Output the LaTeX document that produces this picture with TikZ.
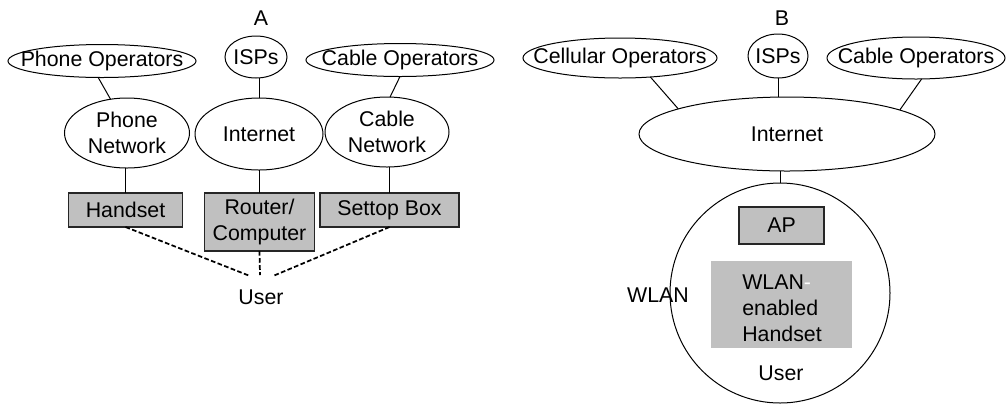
\documentclass[tikz,border=0pt]{standalone}
\usepackage{fontspec}
\setmainfont{Liberation Sans}
\usetikzlibrary{shapes.geometric}
\definecolor{boxgray}{HTML}{C0C0C0}
\tikzset{
  every node/.style={font=\fontsize{16pt}{19.5pt}\selectfont, inner sep=0pt, outer sep=0pt},
  oval/.style={draw, ellipse, line width=0.75pt},
  lbl/.style={align=center},
  devbox/.style={draw=black!85, fill=boxgray, line width=0.9pt, rectangle, align=center},
  link/.style={line width=0.75pt},
  dlink/.style={line width=1.3pt, dash pattern=on 3.5pt off 1.8pt},
}
\begin{document}
\begin{tikzpicture}[x=0.75pt,y=-0.75pt]
\path[use as bounding box] (0,0) rectangle (1006,405);

% ---------- Panel A ----------
\node (tA) at (261,18) {A};
\node[oval, minimum width=141pt, minimum height=24.75pt] (po) at (102,61) {};
\node[lbl] (pot) at (po) {Phone Operators};
\node[oval, minimum width=46.5pt, minimum height=31.5pt] (ispA) at (256,57) {};
\node[lbl] (ispAt) at (ispA) {ISPs};
\node[oval, minimum width=141pt, minimum height=24.75pt] (co) at (400,60) {};
\node[lbl] (cot) at (co) {Cable Operators};

\node[oval, minimum width=93.75pt, minimum height=52.5pt] (pn) at (127,133) {};
\node[lbl] (pnt) at (pn) {Phone\\Network};
\node[oval, minimum width=96pt, minimum height=54pt] (inA) at (259,134) {};
\node[lbl] (inAt) at (inA) {Internet};
\node[oval, minimum width=93pt, minimum height=52.5pt] (cn) at (387,132) {};
\node[lbl] (cnt) at (cn) {Cable\\Network};

\node[devbox, minimum width=85.5pt, minimum height=25.5pt] (hs) at (125.5,210) {Handset};
\node[devbox, minimum width=82.5pt, minimum height=43.5pt] (rc) at (259.5,222) {Router/\\Computer};
\node[devbox, minimum width=104.25pt, minimum height=25.5pt] (stb) at (389.5,210) {Settop Box};

\node (userA) at (261,297) {User};
\coordinate (uL) at (250,276);
\coordinate (uM) at (260,275);
\coordinate (uR) at (273,276);

\draw[link] (po.-103) -- (pn.116);
\draw[link] (inA.north) -- (inA.north |- ispA.south);
\draw[link] (co.south) -- (cn.85);
\draw[link] (hs.north) -- (hs.north |- pn.south);
\draw[link] (rc.north) -- (rc.north |- inA.south);
\draw[link] (stb.north) -- (stb.north |- cn.south);

\draw[dlink] (hs.south) -- (uL);
\draw[dlink] (rc.south) -- (uM);
\draw[dlink] (stb.south) -- (uR);

% ---------- Panel B ----------
\node (tB) at (782,18) {B};
\node[oval, minimum width=145.5pt, minimum height=30pt] (cel) at (620,58) {};
\node[lbl] (celt) at (cel) {Cellular Operators};
\node[oval, minimum width=45pt, minimum height=33pt] (ispB) at (778,56) {};
\node[lbl] (ispBt) at (ispB) {ISPs};
\node[oval, minimum width=133.5pt, minimum height=31.5pt] (coB) at (916,58) {};
\node[lbl] (coBt) at (coB) {Cable Operators};

\node[oval, minimum width=222pt, minimum height=55.5pt] (inB) at (787,134) {};
\node[lbl] (inBt) at (inB) {Internet};

\node[draw, circle, line width=0.75pt, minimum size=165pt] (wlan) at (780,293) {};
\node[devbox, minimum width=63.75pt, minimum height=27.75pt] (ap) at (781.5,225.5) {AP};
\node[fill=boxgray, minimum width=105.75pt, minimum height=65.25pt] (wh) at (781.5,304.5) {};
\node[align=left] (wht) at (782,308) {WLAN\textcolor{white}{-}\\enabled\\Handset};
\node (wl) at (658,295) {WLAN};
\node (userB) at (781,373) {User};

\draw[link] (cel.-32) -- (inB.167);
\draw[link] (ispB.south) -- (ispB.south |- inB.north);
\draw[link] (coB.-75) -- (inB.12);
\draw[link] (wlan.north) -- (wlan.north |- inB.south);
\end{tikzpicture}
\end{document}
